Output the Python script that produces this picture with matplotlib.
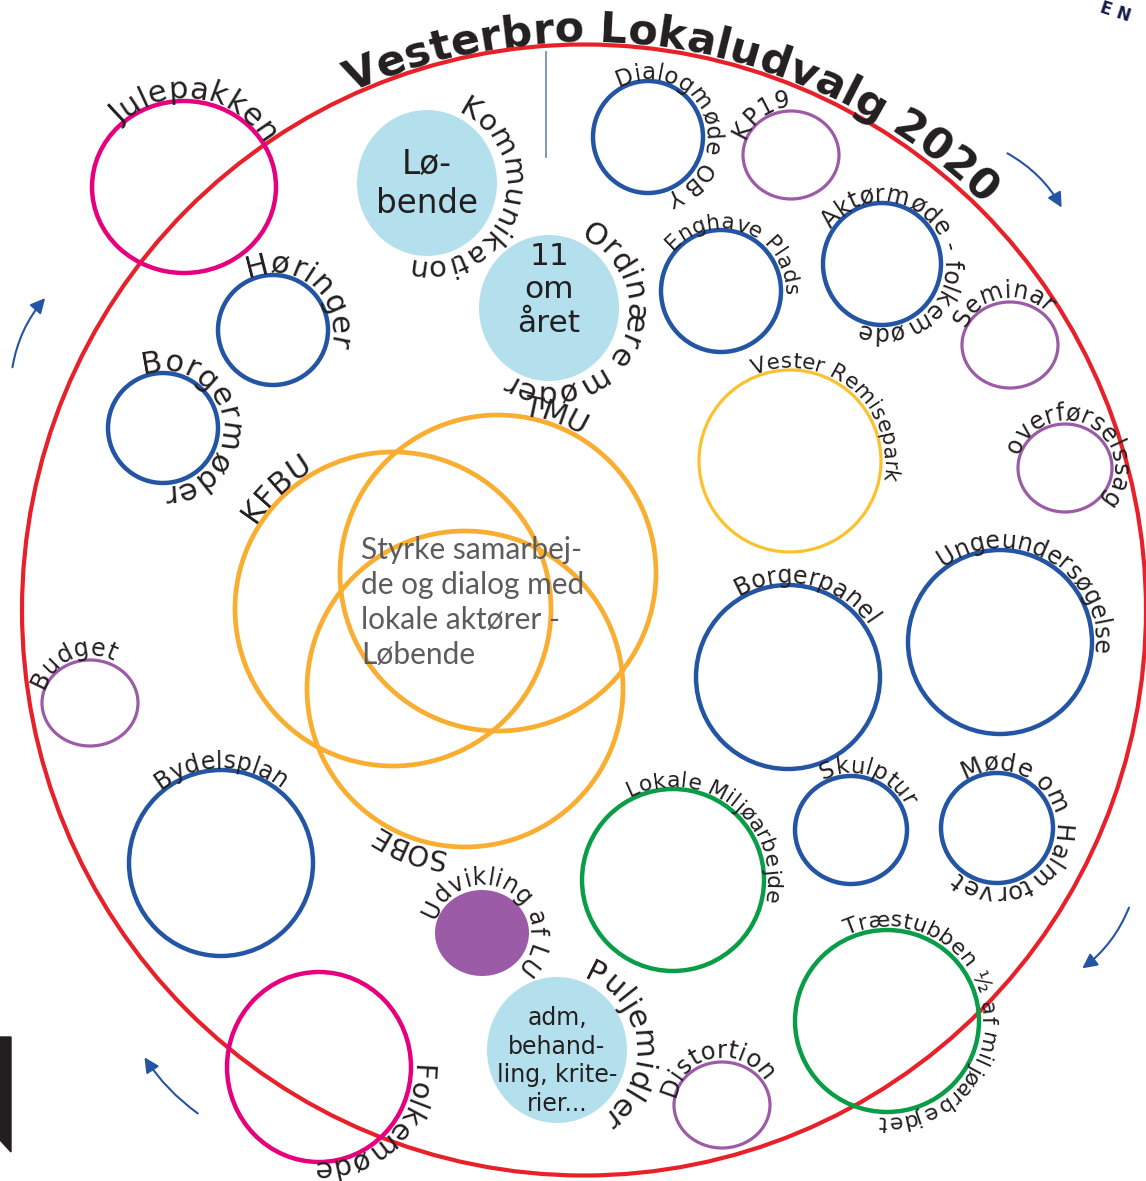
import numpy as np
import matplotlib
matplotlib.use("Agg")
import matplotlib.pyplot as plt
from matplotlib.patches import Ellipse, Polygon, FancyArrowPatch
from matplotlib.font_manager import FontProperties, findfont, get_font

# Farver
RED = "#e8202a"
BLUE = "#2454a4"
PURPLE = "#9c5ba6"
MAGENTA = "#e6007e"
ORANGE = "#f9ae31"
YELLOW = "#fbc22e"
GREEN = "#0a9d48"
LIGHTBLUE = "#b3e0ec"
INK = "#231f20"

# Cirklerne: navn, centrum, radius (x, y), farve, fyldt
labels = ["Julepakken", "Kommunikation", "Ordinære møder", "Dialogmøde OBY", "KP19",
          "Enghave Plads", "Aktørmøde - folkemøde", "Seminar", "Vester Remisepark",
          "overførselssag", "Borgermøder", "Høringer", "KFBU", "TMU", "SOBE", "Budget",
          "Borgerpanel", "Ungeundersøgelse", "Bydelsplan", "Lokale Miljøarbejde",
          "Skulptur", "Møde om Halmtorvet", "Udvikling af LU", "Puljemidler",
          "Træstubben ½ af miljøarbejdet", "Distortion", "Folkemøde"]
cx = [184, 427, 549, 648, 791, 721, 882, 1010, 790, 1065, 163, 273, 393, 498, 465, 90,
      788, 1000, 221, 673, 851, 997, 482, 557, 887, 722, 319]
cy = [187, 183, 308, 137, 155, 291, 264, 345, 461, 468, 428, 330, 609, 573, 689, 703,
      677, 642, 863, 880, 830, 828, 933, 1050, 1021, 1105, 1067]
rx = [92, 70, 70, 55, 48, 60, 59, 48, 91, 47, 55, 55, 158, 158, 158, 48,
      92, 92, 92, 91, 56, 56, 47, 70, 92, 48, 92]
ry = [86, 73, 73, 56, 44, 61, 61, 43, 91, 44, 55, 55, 157, 158, 158, 43,
      92, 92, 93, 91, 54, 55, 43, 73, 91, 43, 95]
colors = [MAGENTA, LIGHTBLUE, LIGHTBLUE, BLUE, PURPLE, BLUE, BLUE, PURPLE, YELLOW,
          PURPLE, BLUE, BLUE, ORANGE, ORANGE, ORANGE, PURPLE, BLUE, BLUE, BLUE, GREEN,
          BLUE, BLUE, PURPLE, LIGHTBLUE, GREEN, PURPLE, MAGENTA]
filled = [False, True, True, False, False, False, False, False, False, False, False,
          False, False, False, False, False, False, False, False, False, False, False,
          True, True, False, False, False]
# tekstens midtervinkel (grader, 0 = højre, 90 = ned) og skriftstørrelse
label_angle = [-82, 19, 28, -24, -126, -68, -17, -100, -50, -60, -9, -49, -134, -70, 110,
               -113, -77, -60, -90, -52, -71, 4, -58, -6, -10, -100, 46]
label_size = [22, 21, 22, 16.5, 17, 15.5, 17, 17, 15.5, 17, 22, 22, 22, 21, 20, 17,
              17, 17, 17, 15.8, 16.5, 17.5, 17, 22, 16, 17.5, 20.5]
label_gap = [0, 5, 5, 2, 2, 2, 2, 2, 2, 2, 2, 2, 4, 2, 4, 2,
             2, 2, 2, 2, 2, 2, 3, 5, 3, 2, 0]

inner_texts = {1: "Lø-\nbende", 2: "11\nom\nåret", 23: "adm,\nbehand-\nling, krite-\nrier..."}
inner_y = {1: 184, 2: 290, 23: 1061}
inner_size = {1: 23.5, 2: 22.5, 23: 17}
center_text = "Styrke samarbej-\nde og dialog med\nlokale aktører -\nLøbende"
title = "Vesterbro Lokaludvalg 2020"

W, H = 1146, 1181
fig = plt.figure(figsize=(W / 100, H / 100), dpi=100)
ax = fig.add_axes([0, 0, 1, 1])
ax.set_xlim(0, W)
ax.set_ylim(H, 0)
ax.axis("off")


def arc_text(ax, x0, y0, r, mid, text, size, weight="normal", color=INK, family="DejaVu Sans"):
    #Skriver teksten med uret langs en cirkel, toppen af bogstaverne peger udad
    prop = FontProperties(family=family, weight=weight, size=size)
    font = get_font(findfont(prop))
    font.set_size(size, 100)
    adv = []
    for ch in text:
        g = font.load_char(ord(ch))
        adv.append(g.linearHoriAdvance / 65536)
    total = sum(adv)
    start = np.radians(mid) - total / r / 2
    pos = 0
    for ch, a in zip(text, adv):
        ang = start + (pos + a / 2) / r
        pos += a
        px = x0 + r * np.cos(ang)
        py = y0 + r * np.sin(ang)
        rot = np.degrees(np.arctan2(-np.cos(ang), -np.sin(ang)))
        ax.text(px, py, ch, fontproperties=prop, color=color, rotation=rot,
                rotation_mode="anchor", ha="center", va="baseline")


# Den store røde cirkel
ax.add_patch(Ellipse((584, 610), 1124, 1131, fill=False, edgecolor=RED, lw=3))

# lodret streg under titlen
ax.plot([546, 546], [52, 157], color="#6f8fc9", lw=1.3)

for i in range(len(labels)):
    c = colors[i]
    if filled[i]:
        ax.add_patch(Ellipse((cx[i], cy[i]), 2 * rx[i], 2 * ry[i], facecolor=c, edgecolor="none"))
    else:
        lw = 2.3 if c in (PURPLE, YELLOW) else 3.2
        if c == ORANGE:
            lw = 3.4
        ax.add_patch(Ellipse((cx[i], cy[i]), 2 * rx[i], 2 * ry[i], fill=False, edgecolor=c, lw=lw))
    r = (rx[i] + ry[i]) / 2 + label_gap[i]
    arc_text(ax, cx[i], cy[i], r, label_angle[i], labels[i], label_size[i])

for i, t in inner_texts.items():
    ls = 1.25 if i == 23 else 1.2
    ax.text(cx[i], inner_y[i], t, ha="center", va="center",
            fontsize=inner_size[i], color=INK, linespacing=ls, family="DejaVu Sans")

ax.text(361, 536, center_text, ha="left", va="top", fontsize=21.5, color="#5c5c5c",
        family="Lato", fontweight="normal", linespacing=1.3)

# Titel langs den røde cirkel
arc_text(ax, 584, 610, 568, -79.8, title, 31, weight="bold", color=INK)

# Pile
arrows = [((1005, 152), (1063, 210), -0.15), ((1130, 905), (1080, 970), -0.15),
          ((200, 1115), (143, 1055), -0.1), ((12, 370), (47, 296), -0.15)]
for a, b, rad in arrows:
    ax.add_patch(FancyArrowPatch(a, b, arrowstyle="-|>", mutation_scale=22, lw=1.5,
                                 color=BLUE, connectionstyle=f"arc3,rad={rad}"))

# sort bjælke i venstre side
ax.add_patch(Polygon([(0, 1037), (11, 1037), (11, 1152), (0, 1140)], closed=True, color=INK))
# tekst i hjørnet (afskåret i originalen)
ax.text(1098, 12, "E N", fontsize=12, fontweight="bold", color="#111a4a", rotation=-18,
        ha="left", va="center", family="DejaVu Sans")

fig.savefig("out.png", dpi=100)
